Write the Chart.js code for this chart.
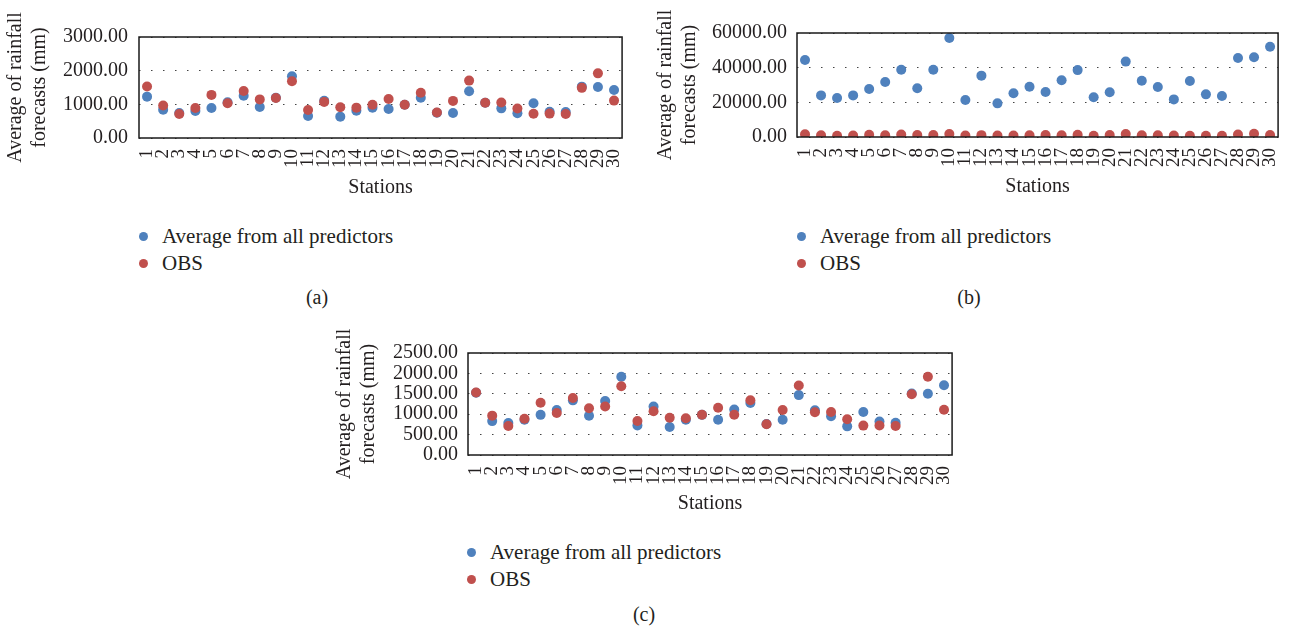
<!DOCTYPE html>
<html>
<head>
<meta charset="utf-8">
<script src="https://cdn.jsdelivr.net/npm/chart.js@4"></script>
<style>
  body { margin: 0; background: #fff; width: 1296px; height: 629px; position: relative; overflow: hidden; }
  .box { position: absolute; }
  .leg, .cap { position: absolute; font-family: "Liberation Serif", serif; color: #231f20; white-space: nowrap; }
  .leg { font-size: 21px; line-height: 26px; }
  .cap { font-size: 20px; }
  .dot { position: absolute; width: 9px; height: 9px; border-radius: 50%; }
</style>
</head>
<body>
<div class="box" style="left:0;top:0;width:640px;height:205px"><canvas id="chartA"></canvas></div>
<div class="box" style="left:650px;top:0;width:646px;height:205px"><canvas id="chartB"></canvas></div>
<div class="box" style="left:330px;top:320px;width:640px;height:205px"><canvas id="chartC"></canvas></div>
<script>
// stations 1..30
const stations = ['1','2','3','4','5','6','7','8','9','10','11','12','13','14','15','16','17','18','19','20','21','22','23','24','25','26','27','28','29','30'];

// observed rainfall, same in all 3 panels
const obs = [1530, 965, 712, 889, 1280, 1031, 1398, 1147, 1187, 1684, 832, 1072, 911, 902, 985,
             1160, 986, 1342, 755, 1102, 1705, 1049, 1054, 875, 720, 725, 712, 1489, 1920, 1111];

// average from all predictors
const avgA = [1228, 842, 743, 802, 891, 1059, 1257, 921, 1198, 1832, 653, 1109, 634, 812, 901,
              861, 985, 1198, 752, 743, 1386, 1049, 881, 733, 1030, 782, 772, 1525, 1515, 1426];
const avgB = [44400, 24000, 22500, 24000, 27700, 31700, 38800, 28100, 38800, 57100, 21300, 35400, 19400, 25200, 29000,
              26000, 32700, 38600, 22900, 25800, 43500, 32500, 28800, 21700, 32300, 24600, 23700, 45600, 46000, 52100];
const avgC = [1524, 831, 782, 863, 984, 1105, 1339, 960, 1323, 1919, 726, 1190, 685, 863, 984,
              863, 1113, 1274, 760, 863, 1468, 1097, 952, 702, 1056, 823, 790, 1508, 1500, 1710];

const seriesNames = ['Average from all predictors', 'OBS'];
const colors = ['#4f81bd', '#c0504d'];
const yTitle = ['Average of rainfall', 'forecasts (mm)'];

const font = { family: 'Liberation Serif', size: 20 };
const xFont = { family: 'Liberation Serif', size: 19 };
const txt = '#231f20';

// solid frame round the plot area
const frame = {
  id: 'frame',
  afterDraw(chart) {
    const a = chart.chartArea, c = chart.ctx;
    c.save();
    c.strokeStyle = '#1a1a1a';
    c.lineWidth = 1.5;
    c.strokeRect(a.left, a.top, a.right - a.left, a.bottom - a.top);
    c.restore();
  }
};

function makeChart(id, avg, yMax, yStep, L) {
  new Chart(document.getElementById(id), {
    type: 'line',
    data: {
      labels: stations,
      datasets: [
        { label: seriesNames[0], data: avg, showLine: false, pointRadius: 5, pointHoverRadius: 5,
          pointBorderWidth: 0, backgroundColor: colors[0], borderColor: colors[0], order: 1 },
        { label: seriesNames[1], data: obs, showLine: false, pointRadius: 5, pointHoverRadius: 5,
          pointBorderWidth: 0, backgroundColor: colors[1], borderColor: colors[1], order: 0 }
      ]
    },
    options: {
      responsive: true,
      maintainAspectRatio: false,
      animation: false,
      layout: { padding: { top: L.top, right: L.right, left: 0, bottom: 0 } },
      plugins: { legend: { display: false }, tooltip: { enabled: false } },
      scales: {
        x: {
          offset: true,
          grid: { display: false },
          border: { display: false },
          ticks: { autoSkip: false, minRotation: 90, maxRotation: 90, padding: 3, color: txt, font: xFont },
          title: { display: true, text: 'Stations', color: txt, font: font, padding: { top: 0, bottom: L.stBottom } },
          afterFit(s) { s.height = L.xh; }
        },
        y: {
          min: 0, max: yMax,
          grid: { color: '#444', lineWidth: 1, drawTicks: false },
          border: { display: false, dash: [1.5, 10.5] },
          ticks: { stepSize: yStep, autoSkip: false, padding: L.tickPad, color: txt, font: font,
                   callback: v => v.toFixed(2) },
          title: { display: true, text: yTitle, color: txt, font: font, padding: { top: L.titleTop, bottom: 0 } },
          afterFit(s) { s.width = L.yw; }
        }
      }
    },
    plugins: [frame]
  });
}

makeChart('chartA', avgA, 3000, 1000, { top: 37, right: 10, yw: 139, xh: 67, tickPad: 11, titleTop: 4, stBottom: 5 });
makeChart('chartB', avgB, 60000, 20000, { top: 33, right: 8, yw: 147, xh: 68, tickPad: 10, titleTop: 4, stBottom: 6 });
makeChart('chartC', avgC, 2500, 500, { top: 33, right: 11, yw: 138, xh: 70, tickPad: 10, titleTop: 3, stBottom: 9 });

// legends and panel captions
function legend(x, y, capX, capY, cap) {
  seriesNames.forEach((name, i) => {
    const row = y + i * 27;
    const d = document.createElement('div');
    d.className = 'dot';
    d.style.left = (x - 4.5) + 'px';
    d.style.top = (row - 4.5) + 'px';
    d.style.background = colors[i];
    document.body.appendChild(d);
    const t = document.createElement('div');
    t.className = 'leg';
    t.style.left = (x + 19) + 'px';
    t.style.top = (row - 13) + 'px';
    t.textContent = name;
    document.body.appendChild(t);
  });
  const c = document.createElement('div');
  c.className = 'cap';
  c.style.left = capX + 'px';
  c.style.top = (capY - 12) + 'px';
  c.style.transform = 'translateX(-50%)';
  c.textContent = cap;
  document.body.appendChild(c);
}
legend(143, 236, 317, 298, '(a)');
legend(801, 236, 969, 298, '(b)');
legend(471, 552, 644, 615, '(c)');
</script>
</body>
</html>
